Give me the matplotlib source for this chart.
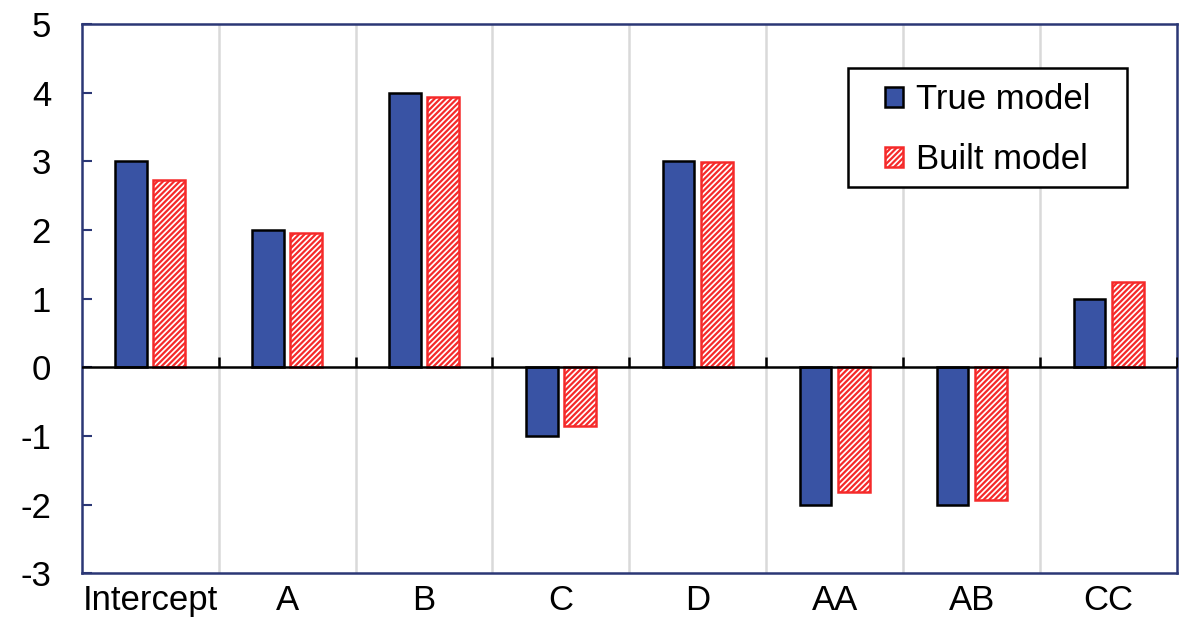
import numpy as np
import matplotlib
matplotlib.use('Agg')
import matplotlib.pyplot as plt
from matplotlib.patches import Rectangle
plt.rc('font', family='Liberation Sans', size=25)
plt.rcParams['hatch.linewidth'] = 1.6
plt.rcParams['axes.unicode_minus'] = False

categories = ['Intercept', 'A', 'B', 'C', 'D', 'AA', 'AB', 'CC']
true_model = [3, 2, 4, -1, 3, -2, -2, 1]
built_model = [2.73, 1.95, 3.94, -0.86, 2.99, -1.82, -1.94, 1.24]

blue = '#3953A4'
red = '#F52A2A'
frame = '#2B3775'

fig, ax = plt.subplots(figsize=(12, 6.34), dpi=100)
fig.subplots_adjust(left=0.068, right=0.981, top=0.962, bottom=0.096)

x = np.arange(len(categories))
w = 0.23
ax.bar(x - 0.14, true_model, w, color=blue, edgecolor='black', lw=1.8,
       label='True model', zorder=3)
ax.bar(x + 0.14, built_model, w, color='white', edgecolor=red, lw=1.8,
       hatch='//////', label='Built model', zorder=3)

# category separators
for b in np.arange(0.5, len(categories) - 0.5):
    ax.axvline(b, color='#D9D9D9', lw=1.8, zorder=1)
ax.axhline(0, color='black', lw=1.8, zorder=4)
ax.plot(np.arange(0.5, len(categories)), np.zeros(len(categories)), ls='none',
        marker=2, ms=7, mew=1.8, color='black', zorder=4)

ax.set_xlim(-0.5, len(categories) - 0.5)
ax.set_ylim(-3, 5)
ax.set_yticks(range(-3, 6))
ax.set_xticks(x)
ax.set_xticklabels(categories)
ax.tick_params(axis='x', length=0, pad=8)
ax.tick_params(axis='y', direction='in', length=7, width=1.5, color=frame, pad=22)
for s in ax.spines.values():
    s.set_color(frame)
    s.set_linewidth(1.8)

# legend box drawn separately (wider side padding than matplotlib allows)
ax.add_patch(Rectangle((0.6995, 0.703), 0.2545, 0.217, transform=ax.transAxes,
                       facecolor='white', edgecolor='black', lw=1.8, zorder=5))
leg = ax.legend(loc='center', bbox_to_anchor=(0.827, 0.808), frameon=False,
                handlelength=0.52, handleheight=0.52, handletextpad=0.35,
                labelspacing=0.78, borderpad=0)
leg.set_zorder(6)

fig.savefig('out.png', dpi=100)
